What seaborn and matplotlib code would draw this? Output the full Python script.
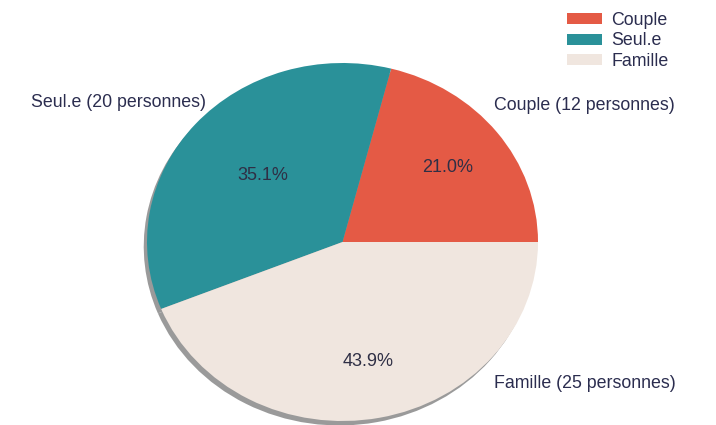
import matplotlib
matplotlib.use("Agg")
import matplotlib.pyplot as plt
import seaborn as sns

categories = ["Couple", "Seul.e", "Famille"]
counts = [12, 20, 25]
shares = [21.0, 35.1, 43.9]
colors = ["#E45A45", "#2A9199", "#F0E6DF"]
label_texts = [f"{c} ({n} personnes)" for c, n in zip(categories, counts)]

sns.set_theme(style="white")
plt.rcParams['font.family'] = ['Liberation Sans', 'DejaVu Sans']
text_color = "#2B2D4F"

fig = plt.figure(figsize=(7.16, 4.25), dpi=100)
ax = fig.add_axes([147/716, 4/425, 391/716, 358/425])

wedges, texts, autotexts = ax.pie(
    shares, colors=colors, startangle=0,
    shadow=dict(ox=-0.012, oy=-0.018, facecolor="#9a9a9a", edgecolor="none", alpha=1.0),
    autopct="%1.1f%%", pctdistance=0.68,
    wedgeprops=dict(linewidth=0),
    textprops=dict(color="#2F2F45", fontsize=13))
ax.set_aspect('auto')
ax.set_xlim(-1, 1)
ax.set_ylim(-1, 1)
autotexts[1].set_position((-0.41, 0.37))

ax.text(0.775, 0.76, label_texts[0], ha="left", va="center", fontsize=12.8, color=text_color)
ax.text(-0.70, 0.78, label_texts[1], ha="right", va="center", fontsize=12.8, color=text_color)
ax.text(0.775, -0.79, label_texts[2], ha="left", va="center", fontsize=12.8, color=text_color)

leg = fig.legend(wedges, categories, loc="upper right", bbox_to_anchor=(0.947, 0.995),
                 frameon=False, fontsize=12.8, handlelength=1.95, handleheight=0.6,
                 handletextpad=0.5, labelspacing=0.2, borderaxespad=0.15)
for t in leg.get_texts():
    t.set_color(text_color)

fig.savefig("out.png", dpi=100)
